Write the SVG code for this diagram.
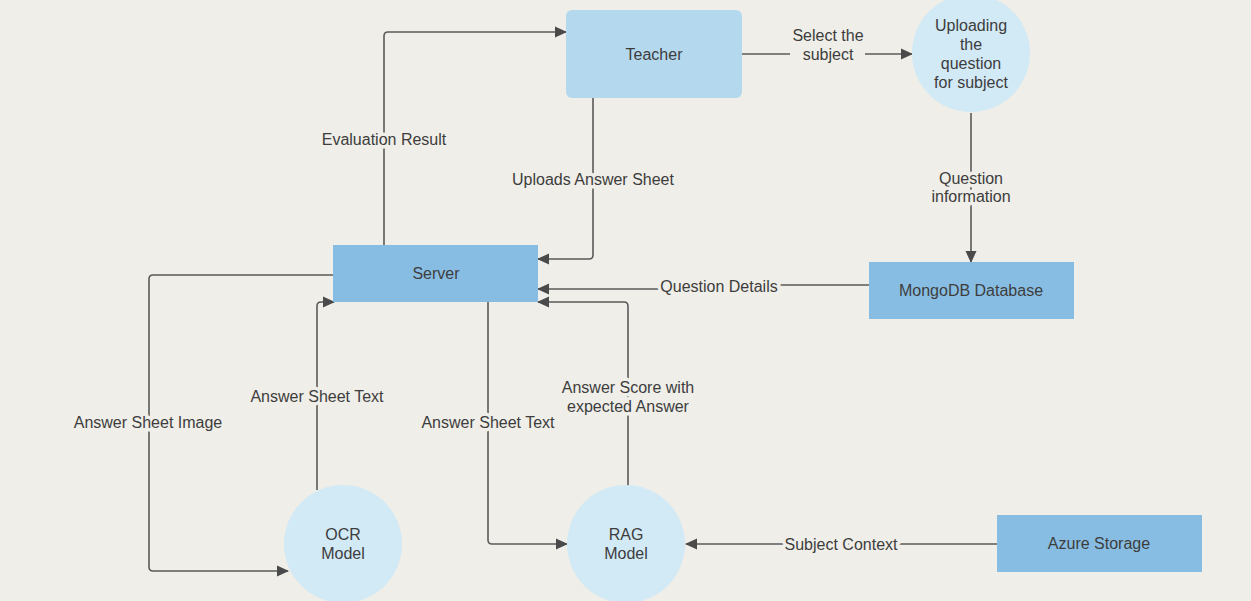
<svg xmlns="http://www.w3.org/2000/svg" width="1251" height="601" viewBox="0 0 1251 601">
<style>
.bg{fill:#efeee8}
.dark{fill:#88bde3}
.light{fill:#b4d8ee}
.circ{fill:#d2e9f6}
text{font-family:"Liberation Sans",Arial,sans-serif;font-size:16px;fill:#3d3d3d;text-anchor:middle}
.lbl{paint-order:stroke;stroke:#efeee8;stroke-width:7px;stroke-linejoin:round}
.edge{fill:none;stroke:#5a5a5a;stroke-width:1.6;marker-end:url(#arr)}
.plain{fill:none;stroke:#5a5a5a;stroke-width:1.6}
</style>
<defs>
<marker id="arr" markerUnits="userSpaceOnUse" markerWidth="12" markerHeight="12" viewBox="0 0 12 12" refX="11" refY="6" orient="auto">
<path d="M0,0.5 L12,6 L0,11.5 Z" fill="#4a4a4a"/>
</marker>
</defs>
<rect class="bg" x="0" y="0" width="1251" height="601"/>
<g id="connectors">
<path class="edge" d="M384,245 V36 Q384,32 388,32 H566"/>
<path class="edge" d="M593,98 V255 Q593,259 589,259 H538"/>
<path class="plain" d="M742,54 H790"/>
<path class="edge" d="M865,54 H912"/>
<path class="edge" d="M971,113 V262"/>
<path class="edge" d="M869,285 H720 V289 H538"/>
<path class="edge" d="M333,275 H153 Q149,275 149,279 V567 Q149,571 153,571 H288"/>
<path class="edge" d="M317,490 V306 Q317,302 321,302 H334"/>
<path class="edge" d="M488,302 V540 Q488,544 492,544 H567"/>
<path class="edge" d="M628,488 V306 Q628,302 624,302 H538"/>
<path class="edge" d="M997,544 H686"/>
<text class="lbl" x="384" y="145">Evaluation Result</text>
<text class="lbl" x="593" y="185">Uploads Answer Sheet</text>
<text class="lbl" x="828" y="41">Select the</text>
<text class="lbl" x="828" y="60">subject</text>
<text class="lbl" x="971" y="184">Question</text>
<text class="lbl" x="971" y="202">information</text>
<text class="lbl" x="719" y="292">Question Details</text>
<text class="lbl" x="148" y="428">Answer Sheet Image</text>
<text class="lbl" x="317" y="402">Answer Sheet Text</text>
<text class="lbl" x="488" y="428">Answer Sheet Text</text>
<text class="lbl" x="628" y="393">Answer Score with</text>
<text class="lbl" x="628" y="412">expected Answer</text>
<text class="lbl" x="841" y="550">Subject Context</text>
</g>
<g id="teacher">
<rect class="light" x="566" y="10" width="176" height="88" rx="6"/>
<text x="654" y="60">Teacher</text>
</g>
<g id="uploading">
<circle class="circ" cx="971" cy="53" r="59"/>
<text x="971" y="31">Uploading</text>
<text x="971" y="50">the</text>
<text x="971" y="69">question</text>
<text x="971" y="88">for subject</text>
</g>
<g id="server">
<rect class="dark" x="333" y="245" width="205" height="57"/>
<text x="436" y="279">Server</text>
</g>
<g id="mongodb">
<rect class="dark" x="869" y="262" width="205" height="57"/>
<text x="971" y="296">MongoDB Database</text>
</g>
<g id="azure">
<rect class="dark" x="997" y="515" width="205" height="57"/>
<text x="1099" y="549">Azure Storage</text>
</g>
<g id="ocr">
<circle class="circ" cx="343" cy="544" r="59"/>
<text x="343" y="540">OCR</text>
<text x="343" y="559">Model</text>
</g>
<g id="rag">
<circle class="circ" cx="626" cy="544" r="59"/>
<text x="626" y="540">RAG</text>
<text x="626" y="559">Model</text>
</g>
</svg>
